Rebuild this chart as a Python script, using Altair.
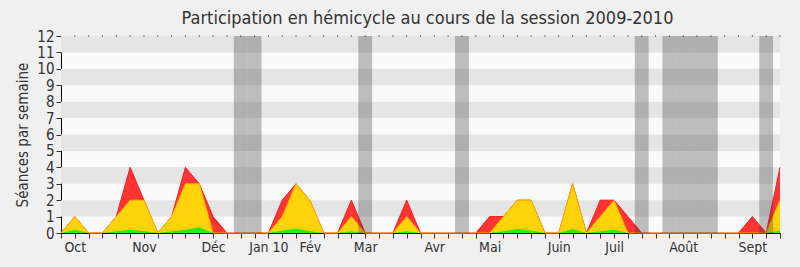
import altair as alt
import pandas as pd

# --- données (lecture du graphique) ---
semaines = list(range(53))
rouge = [0, 1, 0, 0, 1, 4, 2, 0, 1, 4,
         3, 1, 0, 0, 0, 0, 2, 3, 2, 0,
         0, 2, 0, 0, 0, 2, 0, 0, 0, 0,
         0, 1, 1, 2, 2, 0, 0, 3, 0, 2,
         2, 1, 0, 0, 0, 0, 0, 0, 0, 0,
         1, 0, 4]
jaune = [0, 1, 0, 0, 1, 2, 2, 0, 1, 3,
         3, 0, 0, 0, 0, 0, 1, 3, 2, 0,
         0, 1, 0, 0, 0, 1, 0, 0, 0, 0,
         0, 0, 1, 2, 2, 0, 0, 3, 0, 1,
         2, 0, 0, 0, 0, 0, 0, 0, 0, 0,
         0, 0, 2]
vert = [0, 0.2, 0, 0, 0.1, 0.2, 0.12, 0, 0.1, 0.2,
        0.35, 0, 0, 0, 0, 0, 0.15, 0.27, 0.1, 0,
        0, 0.1, 0, 0, 0, 0.1, 0, 0, 0, 0,
        0, 0, 0.1, 0.25, 0.15, 0, 0, 0.25, 0, 0.1,
        0.2, 0, 0, 0, 0, 0, 0, 0, 0, 0,
        0, 0, 0.15]
vacances = [13, 14, 22, 29, 42, 44, 45, 46, 47, 51]
mois_semaines = [1, 6, 11, 15, 18, 22, 27, 31, 36, 40, 45, 50]
mois_noms = ["Oct", "Nov", "Déc", "Jan 10", "Fév", "Mar", "Avr", "Mai",
             "Juin", "Juil", "Août", "Sept"]
bandes = [1, 3, 5, 7, 9, 11]

FONT = "DejaVu Sans Condensed"
W, H = 719, 197

df = pd.DataFrame({"semaine": semaines, "rouge": rouge, "jaune": jaune, "vert": vert})
df_vac = pd.DataFrame({"a": [v - 0.5 for v in vacances], "b": [v + 0.5 for v in vacances],
                       "lo": [0] * len(vacances), "hi": [12] * len(vacances)})
df_bandes = pd.DataFrame({"lo": bandes, "hi": [b + 1 for b in bandes],
                          "x0": [0] * len(bandes), "x1": [52] * len(bandes)})
df_dots = pd.DataFrame({"semaine": semaines[1:], "top": [12] * (len(semaines) - 1)})

xs = alt.Scale(domain=[0, 52], nice=False, zero=False)
ys = alt.Scale(domain=[0, 12], nice=False)

expr = "''"
for w, n in reversed(list(zip(mois_semaines, mois_noms))):
    expr = f"datum.value == {w} ? '{n}' : ({expr})"

X = dict(scale=xs, axis=alt.Axis(values=semaines, labelExpr=expr, labelOverlap=False), title=None)
Y = dict(scale=ys, axis=alt.Axis(values=list(range(13))), title="Séances par semaine")

rows = alt.Chart(df_bandes).mark_rect(color="#E5E5E5").encode(
    x=alt.X("x0:Q", **X), x2="x1:Q",
    y=alt.Y("lo:Q", **Y), y2="hi:Q")

area_r = alt.Chart(df).mark_area(color="#FF3535", opacity=1,
                                 line={"color": "#FF1A1A", "strokeWidth": 1}).encode(
    x=alt.X("semaine:Q", **X),
    y=alt.Y("rouge:Q", **Y))
area_j = alt.Chart(df).mark_area(color="#FFD30A", opacity=1,
                                 line={"color": "#FFB000", "strokeWidth": 1}).encode(
    x=alt.X("semaine:Q", **X),
    y=alt.Y("jaune:Q", **Y))
area_v = alt.Chart(df).mark_area(color="#2EEA1E", opacity=1).encode(
    x=alt.X("semaine:Q", **X),
    y=alt.Y("vert:Q", **Y))

vac = alt.Chart(df_vac).mark_rect(color="#333333", opacity=0.3).encode(
    x=alt.X("a:Q", **X), x2="b:Q",
    y=alt.Y("lo:Q", **Y), y2="hi:Q")

dots = alt.Chart(df_dots).mark_square(size=1, color="#000", opacity=1).encode(
    x=alt.X("semaine:Q", **X),
    y=alt.Y("top:Q", **Y))

chart = alt.layer(rows, area_r, area_j, area_v, vac, dots).properties(
    width=W, height=H,
    autosize=alt.AutoSizeParams(type="none"),
    padding={"left": 61, "top": 36, "right": 20, "bottom": 34},
    background="#F0F0F0",
    title=alt.TitleParams("Participation en hémicycle au cours de la session 2009-2010",
                          font=FONT, fontSize=18, fontWeight="normal", color="#333",
                          anchor="middle", dx=7, dy=5, offset=6),
).configure_view(fill="#FAFAFA", strokeWidth=0).configure_axis(
    grid=False, tickSize=5, tickColor="#333", domainColor="#000",
    labelFont=FONT, labelFontSize=14, labelColor="#333", labelPadding=2,
    titleFont=FONT, titleFontSize=15, titleFontWeight="normal", titleColor="#333",
    labelFlush=False
).configure_axisY(labelFontSize=15, titlePadding=6)

chart.save("out.html", embed_options={"renderer": "svg", "actions": False})
